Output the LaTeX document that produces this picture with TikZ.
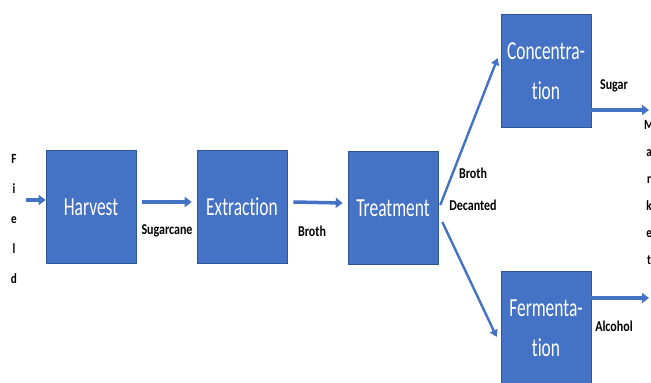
\documentclass[tikz,border=0pt]{standalone}
\usepackage{fontspec}
\setmainfont{Carlito}[Ligatures=NoCommon]
\newfontfamily\boxfont{Carlito}[FakeStretch=0.67,Ligatures=NoCommon]
\newfontfamily\labfont{Carlito}[FakeStretch=0.8,Ligatures=NoCommon]
\usetikzlibrary{arrows.meta,calc}
\definecolor{procblue}{HTML}{4472C4}
\definecolor{procedge}{HTML}{2F5597}

\tikzset{
  procbox/.style={fill=procblue, draw=procedge, line width=0.6pt,
    minimum width=90pt, minimum height=113pt, align=center, text=white,
    font=\boxfont\fontsize{26}{40}\selectfont},
  flowlab/.style={font=\labfont\bfseries\fontsize{15}{32}\selectfont, align=center, inner sep=0pt},
  sidelab/.style={font=\labfont\bfseries\fontsize{14}{30}\selectfont, align=center, inner sep=0pt},
  flowarr/.style={procblue, line width=3.5pt, -{Triangle[length=7pt,width=10pt]}},
  diagarr/.style={procblue, line width=2.4pt, -{Triangle[length=7pt,width=8pt]}},
}

\begin{document}
\begin{tikzpicture}[x=1pt,y=-1pt]
\fill[white] (0,0) rectangle (651,383);
\useasboundingbox (0,0) rectangle (651,383);

% process boxes
\foreach \nm/\x/\y/\txt in {harvest/91/207/Harvest,extraction/242/207/Extraction,
    treatment/393/208/Treatment,concentration/546/71/{Concentra-\\tion},
    fermentation/546/328/{Fermenta-\\tion}} {
  \node[procbox] (\nm) at (\x,\y) {\txt};
}

% side texts
\node[sidelab] (field) at (14,219) {F\\i\\e\\l\\d};
\node[sidelab,anchor=north west,font=\labfont\bfseries\fontsize{14}{27}\selectfont] (market) at (644,120) {M\\a\\r\\k\\e\\t};

% arrows along the line
\draw[flowarr] ([xshift=9pt]field.east |- 0,200) -- (harvest.west |- 0,200);
\draw[flowarr] ([shift={(6pt,5pt)}]harvest.east) -- ([shift={(-5pt,5pt)}]extraction.west);
\draw[flowarr] ([shift={(6pt,5pt)}]extraction.east) -- ([shift={(-5pt,5pt)}]treatment.west);
\draw[diagarr] ([shift={(2pt,3pt)}]treatment.east) -- ([shift={(-3pt,13pt)}]concentration.west);
\draw[diagarr] ([shift={(4pt,-14pt)}]treatment.east) -- ([shift={(-4pt,-9pt)}]fermentation.west);
\coordinate (sugarend) at (649,110);
\coordinate (alcoholend) at (649,298);
\draw[flowarr] (concentration.east |- sugarend) -- (sugarend);
\draw[flowarr] (fermentation.east |- alcoholend) -- (alcoholend);

% labels
\node[flowlab] (lsugarcane) at (167,231) {Sugarcane};
\node[flowlab] (lbroth) at (312,231) {Broth};
\node[flowlab] (ldecanted) at (473,189) {Broth\\Decanted};
\node[flowlab] (lsugar) at (614,86) {Sugar};
\node[flowlab] (lalcohol) at (614,326) {Alcohol};
\end{tikzpicture}
\end{document}
